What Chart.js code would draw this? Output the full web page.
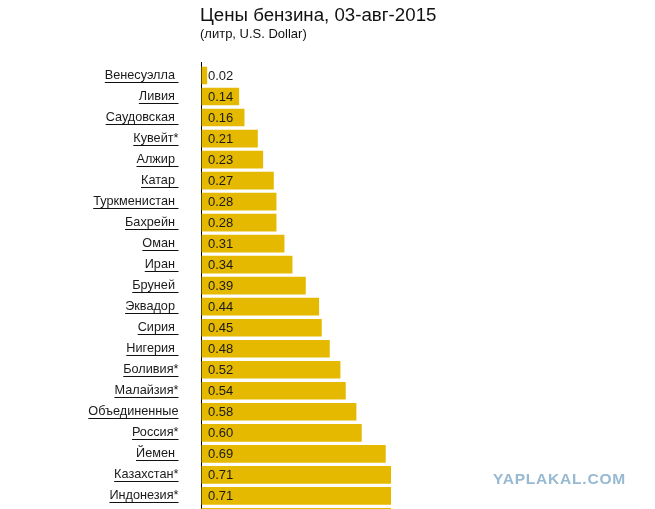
<!DOCTYPE html>
<html><head><meta charset="utf-8">
<script src="https://cdn.jsdelivr.net/npm/chart.js@4.4.1/dist/chart.umd.min.js"></script>
<style>
html,body{margin:0;padding:0;background:#fff;overflow:hidden;width:655px;height:509px;}
#wrap{position:relative;width:655px;height:558px;}
#title{position:absolute;left:200px;top:4px;font-family:"Liberation Sans",Arial,sans-serif;font-size:18.7px;color:#111;white-space:nowrap;}
#sub{position:absolute;left:200px;top:26px;font-family:"Liberation Sans",Arial,sans-serif;font-size:13px;color:#111;white-space:nowrap;}
#wm{position:absolute;left:493px;top:470px;font-family:"Liberation Sans",Arial,sans-serif;font-weight:bold;font-size:15.5px;letter-spacing:0.8px;color:#97b9d2;white-space:nowrap;}
canvas{position:absolute;left:0;top:0;width:655px;height:558px;}
</style></head>
<body>
<div id="wrap">
<canvas id="c" width="655" height="558" style="width:655px;height:558px"></canvas>
<div id="title">Цены бензина, 03-авг-2015</div>
<div id="sub">(литр, U.S. Dollar)</div>
<div id="wm">YAPLAKAL.COM</div>
</div>
<script>
const countries = ["Венесуэлла ","Ливия ","Саудовская ","Кувейт*","Алжир ","Катар ","Туркменистан ","Бахрейн ","Оман ","Иран ","Бруней ","Эквадор ","Сирия ","Нигерия ","Боливия*","Малайзия*","Объединенные","Россия*","Йемен ","Казахстан*","Индонезия*",""];
const prices = [0.02,0.14,0.16,0.21,0.23,0.27,0.28,0.28,0.31,0.34,0.39,0.44,0.45,0.48,0.52,0.54,0.58,0.60,0.69,0.71,0.71,0.71];
const valueLabels = ["0.02","0.14","0.16","0.21","0.23","0.27","0.28","0.28","0.31","0.34","0.39","0.44","0.45","0.48","0.52","0.54","0.58","0.60","0.69","0.71","0.71","0.71"];

const FONT = '"Liberation Sans", Arial, sans-serif';
const LABEL_SIZE = 12.7;

const extras = {
  id:'extras',
  afterDatasetsDraw(chart){
    const ctx = chart.ctx;
    const meta = chart.getDatasetMeta(0);
    ctx.save();
    ctx.font = '13px ' + FONT;
    ctx.fillStyle = '#1a1a1a';
    ctx.textBaseline = 'middle';
    ctx.textAlign = 'left';
    meta.data.forEach((bar,i)=>{
      ctx.fillText(valueLabels[i], bar.base + 6.5, bar.y + 0.5);
    });
    ctx.restore();
  },
  afterDraw(chart){
    const ctx = chart.ctx;
    const ys = chart.scales.y;
    const ca = chart.chartArea;
    ctx.save();
    ctx.font = LABEL_SIZE + 'px ' + FONT;
    ctx.strokeStyle = '#111';
    ctx.lineWidth = 1;
    const right = ys.right - 23;
    ys.ticks.forEach((t,i)=>{
      const lbl = countries[i];
      if(!lbl) return;
      const w = ctx.measureText(lbl).width;
      const y = Math.round(ys.getPixelForTick(i) + 6) + 0.5;
      ctx.beginPath();
      ctx.moveTo(right - w, y);
      ctx.lineTo(right, y);
      ctx.stroke();
    });
    ctx.beginPath();
    ctx.strokeStyle = '#000';
    ctx.moveTo(ca.left, 62);
    ctx.lineTo(ca.left, ca.top);
    ctx.stroke();
    ctx.restore();
  }
};

new Chart(document.getElementById('c'), {
  type:'bar',
  data:{ labels: countries, datasets:[{ data: prices, backgroundColor:'#E4B900', borderWidth:0, barThickness:17 }] },
  options:{
    indexAxis:'y',
    responsive:false,
    maintainAspectRatio:false,
    animation:false,
    devicePixelRatio:1,
    layout:{ padding:{ left:0, right:187, top:65, bottom:3 } },
    plugins:{ legend:{display:false}, tooltip:{enabled:false}, title:{display:false} },
    scales:{
      x:{ display:false, min:0, max:1 },
      y:{
        afterFit(scale){ scale.width = 201.5; },
        grid:{ display:false, drawTicks:false },
        border:{ display:true, color:'#000', width:1 },
        ticks:{ padding:23, color:'#1a1a1a', font:{ family: FONT, size: LABEL_SIZE }, autoSkip:false }
      }
    }
  },
  plugins:[extras]
});
</script>
</body></html>
